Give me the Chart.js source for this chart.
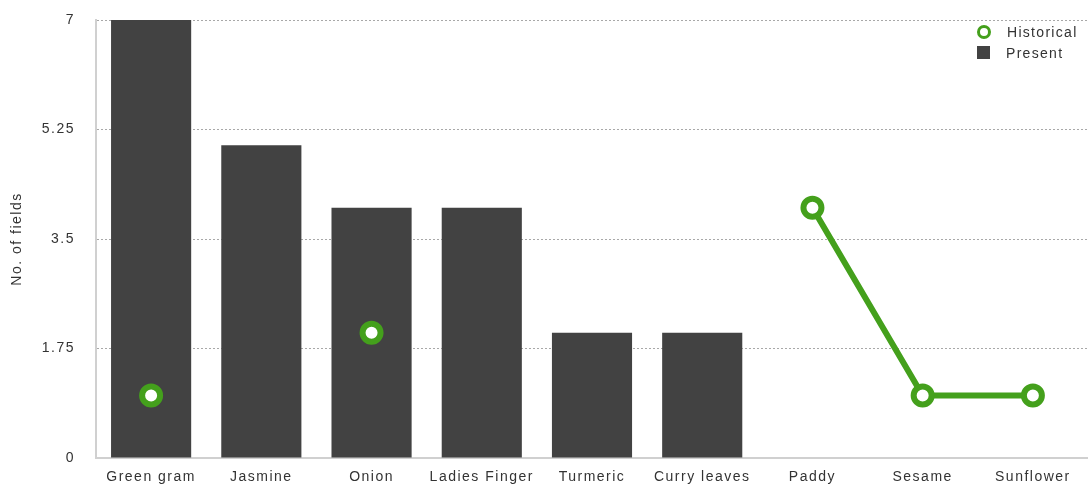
<!DOCTYPE html>
<html>
<head>
<meta charset="utf-8">
<script src="https://cdn.jsdelivr.net/npm/chart.js@4"></script>
<style>
  html, body { margin: 0; padding: 0; background: #fff; }
  #wrap { position: relative; width: 1088px; height: 487px; }
  #legend { position: absolute; left: 977px; top: 21px; font: 14px "Liberation Sans", Arial, sans-serif; letter-spacing: 1.3px; color: #333; }
  #legend div { display: flex; align-items: center; height: 21px; }
  .ring { width: 8px; height: 8px; border: 3px solid #44a01c; border-radius: 50%; margin-right: 16px; box-sizing: content-box; }
  .sq { width: 13px; height: 13px; background: #424242; margin-right: 16px; }
</style>
</head>
<body>
<div id="wrap">
  <canvas id="chart" width="1088" height="487"></canvas>
  <div id="legend">
    <div><span class="ring"></span>Historical</div>
    <div><span class="sq"></span>Present</div>
  </div>
</div>
<script>
const categories = ['Green gram', 'Jasmine', 'Onion', 'Ladies Finger', 'Turmeric', 'Curry leaves', 'Paddy', 'Sesame', 'Sunflower'];
const presentValues = [7, 5, 4, 4, 2, 2, 0, 0, 0];
const historicalValues = [1, null, 2, null, null, null, 4, 1, 1];
const yTicks = [0, 1.75, 3.5, 5.25, 7];

const FONT = '"Liberation Sans", Arial, sans-serif';

new Chart(document.getElementById('chart'), {
    data: {
        labels: categories,
        datasets: [
            {
                type: 'line',
                label: 'Historical',
                data: historicalValues,
                borderColor: '#44a01c',
                borderWidth: 6,
                pointRadius: 9,
                pointBorderWidth: 6,
                pointBackgroundColor: '#fff',
                pointBorderColor: '#44a01c',
                spanGaps: false,
                order: 0
            },
            {
                type: 'bar',
                label: 'Present',
                data: presentValues,
                backgroundColor: '#424242',
                categoryPercentage: 1,
                barPercentage: 0.727,
                order: 1
            }
        ]
    },
    options: {
        responsive: false,
        animation: false,
        layout: { autoPadding: false, padding: { top: 20, right: 0, bottom: 0, left: 0 } },
        plugins: { legend: { display: false }, tooltip: { enabled: false } },
        scales: {
            x: {
                grid: { display: false },
                border: { color: '#d0d0d0', width: 2 },
                ticks: { color: '#333', font: { family: FONT, size: 14 }, padding: 3, maxRotation: 0 },
                afterFit: s => { s.height = 29; s.paddingLeft = 0; s.paddingRight = 0; }
            },
            y: {
                min: 0,
                max: 7,
                afterBuildTicks: s => { s.ticks = yTicks.map(v => ({ value: v })); },
                grid: {
                    color: ctx => ctx.tick && ctx.tick.value === 0 ? 'rgba(0,0,0,0)' : '#a8a8a8',
                    drawTicks: false,
                    lineWidth: 1
                },
                border: { color: '#d0d0d0', width: 2, dash: [2, 2] },
                ticks: {
                    color: '#333',
                    font: { family: FONT, size: 14 },
                    padding: 21,
                    callback: v => String(v)
                },
                title: { display: true, text: 'No. of fields', color: '#333', font: { family: FONT, size: 14 }, padding: { top: 9, bottom: 0 } },
                afterFit: s => { s.width = 96; s.paddingTop = 0; s.paddingBottom = 0; }
            }
        }
    },
    plugins: [{
        id: 'tracking',
        beforeUpdate(chart) { chart.ctx.letterSpacing = '1.5px'; }
    }]
});
</script>
</body>
</html>
